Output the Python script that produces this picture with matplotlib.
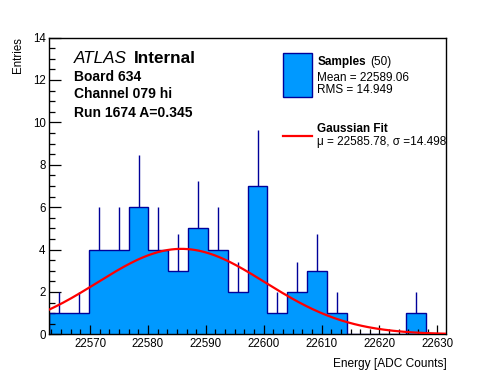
import numpy as np
import matplotlib
matplotlib.use("Agg")
import matplotlib.pyplot as plt
from matplotlib.ticker import MultipleLocator
from matplotlib.patches import Rectangle
from matplotlib.lines import Line2D

plt.rcParams['font.family'] = ['Liberation Sans', 'DejaVu Sans']

# histogram: 20 bins between the range edges
x_lo, x_hi, n_bins = 22562.96, 22631.5, 20
counts = [1, 1, 4, 4, 6, 4, 3, 5, 4, 2, 7, 1, 2, 3, 1, 0, 0, 0, 1, 0]

# gaussian fit parameters
fit_mu = 22585.78
fit_sigma = 14.498
fit_amp = 4.03

board_lines = ["Board 634", "Channel 079 hi", "Run 1674 A=0.345"]
legend_samples = ["Mean = 22589.06", "RMS = 14.949"]
legend_fit = "\u03bc = 22585.78, \u03c3 =14.498"

FILL = '#0099ff'
EDGE = '#000099'
W, H = 496, 372

def fx(px):
    return px / W

def fy(py):
    return 1 - py / H

fig = plt.figure(figsize=(W / 100, H / 100), dpi=100)
ax = fig.add_axes([fx(49.3), fy(334.3), (446 - 49.3) / W, (334.3 - 37.5) / H])

edges = np.linspace(x_lo, x_hi, n_bins + 1)
counts = np.array(counts, dtype=float)
centers = 0.5 * (edges[:-1] + edges[1:])

ax.stairs(counts, edges, fill=True, facecolor=FILL, edgecolor='none', zorder=1)
ax.stairs(counts, edges, fill=False, color=EDGE, linewidth=1.0, zorder=2)

# upper half of the poisson error bars
nz = counts > 0
ax.vlines(centers[nz], counts[nz], counts[nz] + np.sqrt(counts[nz]),
          color=EDGE, linewidth=1.0, zorder=2)

xs = np.linspace(x_lo, x_hi, 400)
ax.plot(xs, fit_amp * np.exp(-0.5 * ((xs - fit_mu) / fit_sigma) ** 2),
        color='red', linewidth=1.6, zorder=3)

ax.set_xlim(x_lo, x_hi)
ax.set_ylim(0, 14)
ax.xaxis.set_major_locator(MultipleLocator(10))
ax.xaxis.set_minor_locator(MultipleLocator(10 / 6))
ax.yaxis.set_major_locator(MultipleLocator(2))
ax.yaxis.set_minor_locator(MultipleLocator(0.5))
ax.tick_params(axis='both', which='both', direction='in', top=False, right=False,
               labelsize=8.3, width=0.9)
ax.tick_params(axis='x', which='major', length=6.5, pad=3)
ax.tick_params(axis='x', which='minor', length=3.6)
ax.tick_params(axis='y', which='major', length=8.6, pad=2.6)
ax.tick_params(axis='y', which='minor', length=4.3)
ax.xaxis.set_major_formatter(plt.FuncFormatter(lambda v, p: f"{v:.0f}"))
for s in ax.spines.values():
    s.set_linewidth(1.0)

fig.text(fx(447), fy(367), "Energy [ADC Counts]", ha='right', va='baseline', fontsize=8.6)
fig.text(fx(18.3), fy(37), "Entries", rotation=90, ha='center', va='top', fontsize=8.3)

# ATLAS label block
fig.text(fx(74), fy(62.7), "ATLAS", style='italic', ha='left', va='baseline', fontsize=12.3)
fig.text(fx(134), fy(62.7), "Internal", weight='bold', ha='left', va='baseline', fontsize=12.3)
for txt, yb in zip(board_lines, [80.7, 98.3, 116.7]):
    fig.text(fx(74), fy(yb), txt, weight='bold', ha='left', va='baseline', fontsize=10)

# hand-drawn legend
fig.patches.append(Rectangle((fx(283.3), fy(96.7)), (311.7 - 283.3) / W, (96.7 - 53.3) / H,
                             transform=fig.transFigure, facecolor=FILL, edgecolor=EDGE,
                             linewidth=1.0))
fig.text(fx(317.3), fy(65), "Samples", weight='bold', ha='left', va='baseline', fontsize=8.5)
fig.text(fx(370.3), fy(65), "(50)", ha='left', va='baseline', fontsize=8.5)
fig.text(fx(317.3), fy(81.2), legend_samples[0], ha='left', va='baseline', fontsize=8.5)
fig.text(fx(317.3), fy(93), legend_samples[1], ha='left', va='baseline', fontsize=8.5)

fig.lines.append(Line2D([fx(283.3), fx(311.7)], [fy(135.5), fy(135.5)], transform=fig.transFigure,
                        color='red', linewidth=1.6))
fig.text(fx(317.3), fy(132.3), "Gaussian Fit", weight='bold', ha='left', va='baseline', fontsize=8.5)
fig.text(fx(317.3), fy(144.8), legend_fit, ha='left', va='baseline', fontsize=8.5)

fig.savefig("out.png", dpi=100)
